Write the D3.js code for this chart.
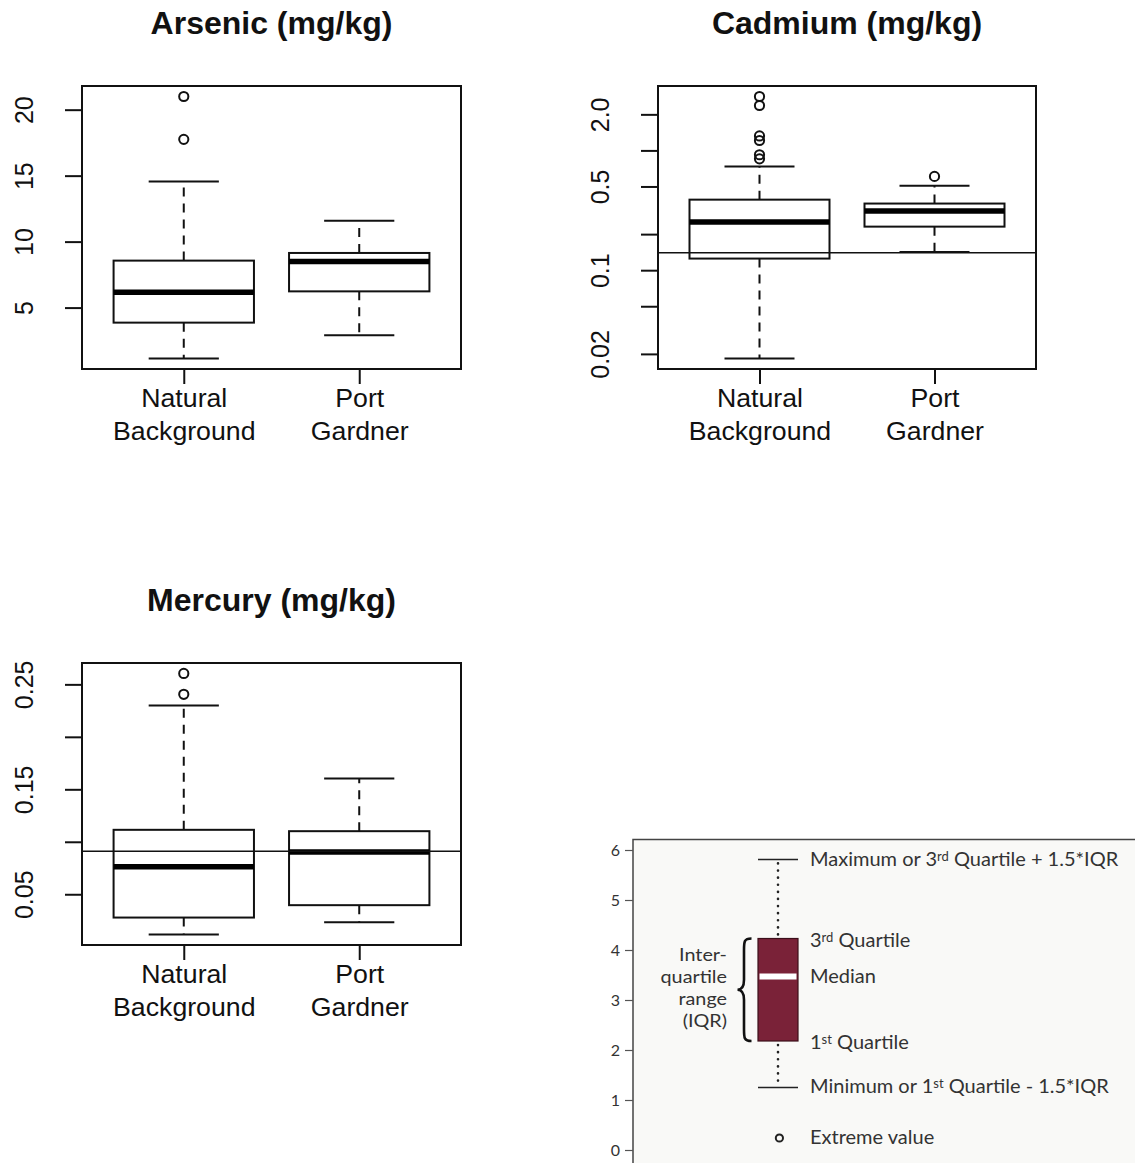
<!DOCTYPE html>
<html>
<head>
<meta charset="utf-8">
<script src="https://cdn.jsdelivr.net/npm/d3@7"></script>
<style>
  html, body { margin: 0; padding: 0; background: #fff; }
  svg { display: block; }
</style>
</head>
<body>
<svg id="chart" width="1135" height="1163"></svg>
<script>
// Sediment sampling groups
const groups = ["Natural Background", "Port Gardner"];

// Box statistics per group: [lower whisker, Q1, median, Q3, upper whisker]
const arsenicStats = [[1.14, 3.86, 6.16, 8.56, 14.55], [2.9, 6.23, 8.5, 9.14, 11.59]];
const arsenicOutliers = [[17.75, 21.0], []];
const arsenicTicks = [5, 10, 15, 20];
const arsenicTickLabels = ["5", "10", "15", "20"];

const cadmiumStats = [[0.0183, 0.125, 0.252, 0.388, 0.735], [0.142, 0.231, 0.312, 0.360, 0.508]];
const cadmiumOutliers = [[0.85, 0.92, 1.21, 1.32, 2.37, 2.82], [0.607]];
const cadmiumTicks = [0.02, 0.05, 0.1, 0.2, 0.5, 1, 2];
const cadmiumTickLabels = ["0.02", "", "0.1", "", "0.5", "", "2.0"];
const cadmiumReference = 0.14;

const mercuryStats = [[0.0116, 0.0278, 0.0762, 0.1114, 0.2298], [0.0234, 0.0396, 0.0902, 0.1101, 0.1602]];
const mercuryOutliers = [[0.2405, 0.2604], []];
const mercuryTicks = [0.05, 0.10, 0.15, 0.20, 0.25];
const mercuryTickLabels = ["0.05", "", "0.15", "", "0.25"];
const mercuryReference = 0.091;

// Explanatory key: [min, Q1, median, Q3, max] and its axis
const keyStats = [1.25, 2.18, 3.47, 4.23, 5.81];
const keyOutlier = 0.4;
const keyTicks = [0, 1, 2, 3, 4, 5, 6];

const svg = d3.select("#chart");
const FONT = "'Liberation Sans', Arial, Helvetica, sans-serif";
const KEYFONT = "Lato, 'Open Sans', sans-serif";

function drawPanel(cfg) {
  const { left, right, top, bottom, title, stats, outliers, ticks, tickLabels, log, reference } = cfg;
  const g = svg.append("g");

  // value range padded 4% on each side (in log space for log scales)
  const all = stats.flat().concat(outliers.flat());
  let y;
  if (log) {
    const lo = Math.log10(d3.min(all)), hi = Math.log10(d3.max(all));
    const pad = (hi - lo) * 0.04;
    y = d3.scaleLog().domain([10 ** (lo - pad), 10 ** (hi + pad)]).range([bottom, top]);
  } else {
    const lo = d3.min(all), hi = d3.max(all);
    const pad = (hi - lo) * 0.04;
    y = d3.scaleLinear().domain([lo - pad, hi + pad]).range([bottom, top]);
  }
  const x = d3.scaleLinear().domain([0.42, 2.58]).range([left, right]);

  // title
  g.append("text")
    .attr("x", (left + right) / 2).attr("y", top - 52)
    .attr("text-anchor", "middle")
    .attr("font-family", FONT).attr("font-weight", "bold").attr("font-size", 32)
    .attr("fill", "#111")
    .text(title);

  // y axis
  const yAxis = g.append("g").attr("transform", `translate(${left},0)`)
    .call(d3.axisLeft(y).tickValues(ticks).tickSize(17).tickFormat((d, i) => tickLabels[i]));
  yAxis.select(".domain").remove();
  yAxis.selectAll(".tick line").attr("stroke", "#111").attr("stroke-width", 2);
  yAxis.selectAll(".tick text")
    .attr("transform", "rotate(-90)")
    .attr("x", 0).attr("y", -49).attr("dy", 0)
    .attr("text-anchor", "middle")
    .attr("font-family", FONT).attr("font-size", 25).attr("fill", "#111");

  // x axis with two-line group names
  const xAxis = g.append("g").attr("transform", `translate(0,${bottom})`)
    .call(d3.axisBottom(x).tickValues([1, 2]).tickSize(15).tickFormat((d, i) => groups[i]));
  xAxis.select(".domain").remove();
  xAxis.selectAll(".tick line").attr("stroke", "#111").attr("stroke-width", 2);
  xAxis.selectAll(".tick text").each(function (d, i) {
    const t = d3.select(this);
    const words = groups[i].split(" ");
    t.text(null).attr("y", 0).attr("dy", 0)
      .attr("font-family", FONT).attr("font-size", 26.7).attr("fill", "#111");
    words.forEach((w, k) => t.append("tspan").attr("x", 0).attr("y", 38 + k * 33).text(w));
  });

  // boxes
  const bw = 0.4, cw = 0.2;
  stats.forEach((s, i) => {
    const c = i + 1;
    const [lo, q1, med, q3, hi] = s;
    const b = g.append("g");
    // dashed whiskers
    b.append("line").attr("x1", x(c)).attr("x2", x(c)).attr("y1", y(q3)).attr("y2", y(hi))
      .attr("stroke", "#111").attr("stroke-width", 2).attr("stroke-dasharray", "9,7");
    b.append("line").attr("x1", x(c)).attr("x2", x(c)).attr("y1", y(q1)).attr("y2", y(lo))
      .attr("stroke", "#111").attr("stroke-width", 2).attr("stroke-dasharray", "9,7");
    // whisker caps
    [lo, hi].forEach(v => b.append("line")
      .attr("x1", x(c - cw)).attr("x2", x(c + cw)).attr("y1", y(v)).attr("y2", y(v))
      .attr("stroke", "#111").attr("stroke-width", 2));
    // box
    b.append("rect")
      .attr("x", x(c - bw)).attr("width", x(c + bw) - x(c - bw))
      .attr("y", y(q3)).attr("height", y(q1) - y(q3))
      .attr("fill", "#fff").attr("stroke", "#111").attr("stroke-width", 2);
    // median
    b.append("line").attr("x1", x(c - bw)).attr("x2", x(c + bw)).attr("y1", y(med)).attr("y2", y(med))
      .attr("stroke", "#000").attr("stroke-width", 5.5);
    // outliers
    b.selectAll("circle").data(outliers[i]).join("circle")
      .attr("cx", x(c)).attr("cy", d => y(d)).attr("r", 4.6)
      .attr("fill", "none").attr("stroke", "#111").attr("stroke-width", 2);
  });

  // reference level
  if (reference !== undefined) {
    g.append("line").attr("x1", left).attr("x2", right)
      .attr("y1", y(reference)).attr("y2", y(reference))
      .attr("stroke", "#111").attr("stroke-width", 1.6);
  }

  // frame
  g.append("rect").attr("x", left).attr("y", top)
    .attr("width", right - left).attr("height", bottom - top)
    .attr("fill", "none").attr("stroke", "#111").attr("stroke-width", 2);
}

drawPanel({ left: 82, right: 461, top: 86, bottom: 369, title: "Arsenic (mg/kg)",
  stats: arsenicStats, outliers: arsenicOutliers, ticks: arsenicTicks, tickLabels: arsenicTickLabels });
drawPanel({ left: 658, right: 1036, top: 86, bottom: 369, title: "Cadmium (mg/kg)",
  stats: cadmiumStats, outliers: cadmiumOutliers, ticks: cadmiumTicks, tickLabels: cadmiumTickLabels,
  log: true, reference: cadmiumReference });
drawPanel({ left: 82, right: 461, top: 663, bottom: 945, title: "Mercury (mg/kg)",
  stats: mercuryStats, outliers: mercuryOutliers, ticks: mercuryTicks, tickLabels: mercuryTickLabels,
  reference: mercuryReference });

// ---- explanatory key ----
(function drawKey() {
  const k = svg.append("g");
  const yk = d3.scaleLinear().domain([0, 6]).range([1150, 850]);
  const kx = 778, half = 20;
  const ink = "#333";

  k.append("rect").attr("x", 633).attr("y", 839.5).attr("width", 620).attr("height", 400)
    .attr("fill", "#f9f9f7").attr("stroke", "#444").attr("stroke-width", 1.5);

  const ax = k.append("g").attr("transform", "translate(633,0)")
    .call(d3.axisLeft(yk).tickValues(keyTicks).tickSize(8).tickPadding(5).tickFormat(d3.format("d")));
  ax.select(".domain").remove();
  ax.selectAll(".tick line").attr("stroke", "#555").attr("stroke-width", 1.2);
  ax.selectAll(".tick text").attr("font-family", KEYFONT).attr("font-size", 16).attr("fill", ink);

  const [mn, q1, md, q3, mx] = keyStats;
  // dotted whiskers
  [[q3, mx], [q1, mn]].forEach(([a, b]) => k.append("line")
    .attr("x1", kx).attr("x2", kx).attr("y1", yk(a) - 4 * Math.sign(b - a)).attr("y2", yk(b))
    .attr("stroke", "#222").attr("stroke-width", 2.6).attr("stroke-linecap", "round")
    .attr("stroke-dasharray", "0.1,7"));
  [mn, mx].forEach(v => k.append("line")
    .attr("x1", kx - half).attr("x2", kx + half).attr("y1", yk(v)).attr("y2", yk(v))
    .attr("stroke", "#222").attr("stroke-width", 1.6));
  k.append("rect").attr("x", kx - half).attr("width", 2 * half)
    .attr("y", yk(q3)).attr("height", yk(q1) - yk(q3))
    .attr("fill", "#7a2238").attr("stroke", "#3b0f1a").attr("stroke-width", 1.2);
  k.append("rect").attr("x", kx - half + 1.5).attr("width", 2 * half - 3)
    .attr("y", yk(md) - 3).attr("height", 6).attr("fill", "#fff");
  k.append("circle").attr("cx", kx + 1.4).attr("cy", yk(keyOutlier) + 8).attr("r", 3.6)
    .attr("fill", "none").attr("stroke", "#222").attr("stroke-width", 2);

  // curly brace spanning the interquartile range
  const bt = yk(q3), bb = yk(q1), bm = (bt + bb) / 2, bx = 751.5, bxi = 744, tip = 737.5;
  k.append("path")
    .attr("d", `M${bx},${bt} C${bxi},${bt} ${bxi},${bt + 3} ${bxi},${bt + 12}
      L${bxi},${bm - 10} C${bxi},${bm - 3} ${bxi - 2},${bm} ${tip},${bm}
      C${bxi - 2},${bm} ${bxi},${bm + 3} ${bxi},${bm + 10}
      L${bxi},${bb - 12} C${bxi},${bb - 3} ${bxi},${bb} ${bx},${bb}`)
    .attr("fill", "none").attr("stroke", "#111").attr("stroke-width", 2.6);

  const tx = 810, fs = 20;
  function label(y, parts) {
    const t = k.append("text").attr("x", tx).attr("y", y)
      .attr("font-family", KEYFONT).attr("font-size", fs).attr("fill", ink);
    parts.forEach(p => {
      if (typeof p === "string") t.append("tspan").text(p);
      else t.append("tspan").attr("font-size", 13).attr("baseline-shift", "40%").text(p.sup);
    });
  }
  label(866, ["Maximum or 3", { sup: "rd" }, " Quartile + 1.5*IQR"]);
  label(946.5, ["3", { sup: "rd" }, " Quartile"]);
  label(982.5, ["Median"]);
  label(1049, ["1", { sup: "st" }, " Quartile"]);
  label(1092.5, ["Minimum or 1", { sup: "st" }, " Quartile - 1.5*IQR"]);
  label(1144, ["Extreme value"]);

  // stacked label beside the brace, slightly widened glyphs to keep lines tight
  const iqr = k.append("g").attr("transform", "translate(727,0) scale(1.1,1) translate(-727,0)");
  ["Inter-", "quartile", "range", "(IQR)"].forEach((w, i) => iqr.append("text")
    .attr("x", 727).attr("y", 961.5 + i * 22).attr("text-anchor", "end")
    .attr("font-family", KEYFONT).attr("font-size", 18).attr("fill", ink).text(w));
})();
</script>
</body>
</html>
